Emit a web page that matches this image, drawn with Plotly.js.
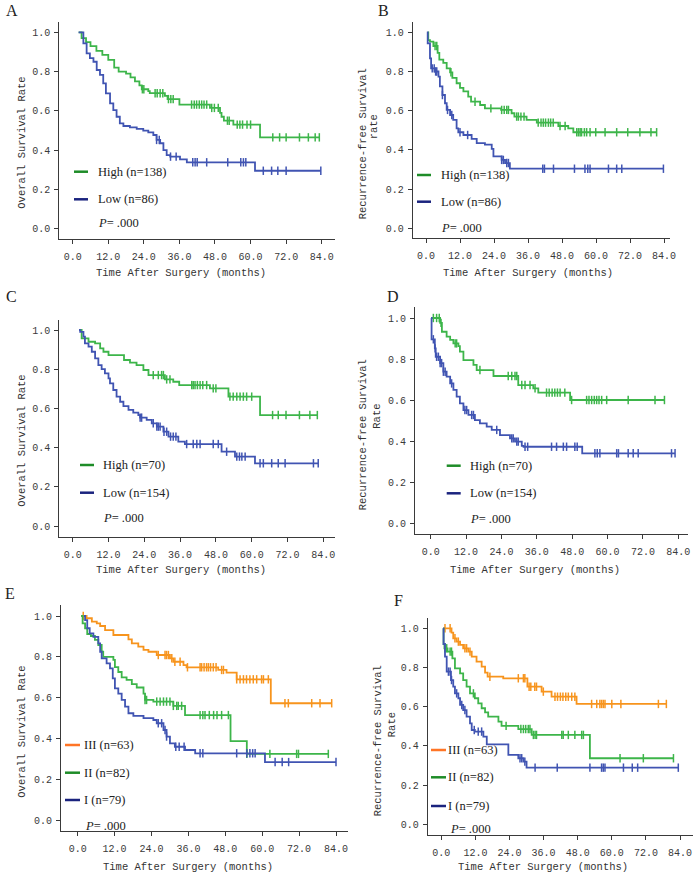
<!DOCTYPE html>
<html><head><meta charset="utf-8">
<script src="https://cdn.plot.ly/plotly-3.0.1.min.js"></script>
<style>html,body{margin:0;padding:0;background:#fff}#chart{width:697px;height:877px}</style>
</head><body><div id="chart"></div>
<script>
// ---------- tick labels ----------
const xTickVals = [0, 12, 24, 36, 48, 60, 72, 84];
const xTickText = ['0.0', '12.0', '24.0', '36.0', '48.0', '60.0', '72.0', '84.0'];
const yTickVals = [0, 0.2, 0.4, 0.6, 0.8, 1.0];
const yTickText = ['0.0', '0.2', '0.4', '0.6', '0.8', '1.0'];

// ---------- Panel A : Overall survival, High vs Low ----------
const A_high_t = [2, 3, 4.5, 6, 8, 10, 12, 14, 15.5, 18, 19.5, 21, 22.5, 23.3, 25.5, 26, 31.1, 32, 36, 46.3, 49.7, 50.2, 51, 54.2, 63.2];
const A_high_s = [1.0, 0.97, 0.95, 0.93, 0.905, 0.885, 0.86, 0.82, 0.80, 0.79, 0.77, 0.75, 0.73, 0.71, 0.70, 0.69, 0.676, 0.66, 0.632, 0.615, 0.59, 0.57, 0.55, 0.53, 0.465];
const A_high_c = [23.5, 24, 27.8, 28.5, 29.5, 30.4, 32.3, 33.1, 33.9, 40.1, 41, 41.8, 42.7, 43.5, 44.3, 45.2, 46.9, 47.8, 49.1, 52.2, 52.8, 55.5, 56.4, 57.3, 58.8, 60, 67.5, 69.8, 72, 76.5, 79.5, 81.8, 83.2];
const A_low_t = [2, 3.6, 4.7, 5.8, 7.0, 8.1, 9.2, 10.3, 11.2, 12.6, 13.7, 14.8, 15.9, 17.1, 19.3, 21.6, 23.8, 25.5, 27.2, 28.3, 29.5, 30.6, 31.7, 32.9, 36.2, 38.5, 61.5];
const A_low_s = [1.0, 0.944, 0.893, 0.868, 0.85, 0.808, 0.783, 0.74, 0.689, 0.638, 0.604, 0.57, 0.536, 0.523, 0.516, 0.508, 0.499, 0.49, 0.477, 0.452, 0.435, 0.40, 0.375, 0.367, 0.353, 0.338, 0.295];
const A_low_c = [28.3, 29.2, 33, 34.9, 40.5, 41.3, 42, 45.2, 52.3, 56.7, 57.6, 58.4, 64.3, 67.1, 69.2, 72, 83.7];

// ---------- Panel B : Recurrence-free survival, High vs Low ----------
const B_high_t = [0.6, 0.8, 1.4, 2.6, 4.1, 4.7, 6.1, 7.3, 8.5, 9.3, 10.8, 12.0, 13.2, 14.9, 15.9, 19.1, 20.8, 26.5, 30.2, 31.2, 35.5, 39.1, 46.7, 50.2, 52];
const B_high_s = [1.0, 0.96, 0.952, 0.93, 0.895, 0.861, 0.844, 0.816, 0.796, 0.767, 0.74, 0.716, 0.699, 0.672, 0.646, 0.629, 0.612, 0.604, 0.587, 0.57, 0.553, 0.539, 0.522, 0.51, 0.49];
const B_high_c = [3.2, 3.8, 8.8, 17.3, 22.9, 26.7, 27.6, 28.5, 29.1, 32, 32.6, 33.5, 34.6, 39.6, 40.6, 41.4, 42.2, 43.2, 44, 44.9, 47.3, 49.1, 53.2, 53.8, 54.4, 54.9, 55.9, 56.7, 57.9, 59.9, 63.2, 67.3, 71.2, 75.5, 79.4, 81.4];
const B_low_t = [0.3, 0.6, 1.4, 1.8, 3.2, 4.4, 4.9, 5.8, 6.7, 7.3, 8.5, 9.6, 10.8, 11.4, 13.2, 16.1, 17.9, 20.8, 23.2, 23.8, 26.7, 27.9, 29.6];
const B_low_s = [1.0, 0.944, 0.867, 0.816, 0.80, 0.774, 0.724, 0.68, 0.638, 0.604, 0.578, 0.553, 0.51, 0.49, 0.476, 0.456, 0.435, 0.427, 0.405, 0.367, 0.349, 0.333, 0.304];
const B_low_c = [2.2, 2.9, 3.4, 3.8, 5.8, 7.6, 9.1, 12, 14.7, 26.7, 27.3, 28.5, 29.1, 41.2, 41.8, 45, 52.4, 56.1, 57.1, 57.9, 64.4, 67.3, 69.1, 83.8];

// ---------- Panel C : Overall survival, High vs Low ----------
const C_high_t = [2.1, 3.0, 5.3, 7.5, 9.2, 10.3, 12.0, 17.2, 19.2, 21.4, 23.7, 25.4, 30.9, 33.7, 35.7, 46, 52.2, 62.8];
const C_high_s = [1.0, 0.957, 0.94, 0.932, 0.906, 0.889, 0.872, 0.847, 0.834, 0.821, 0.796, 0.77, 0.748, 0.736, 0.719, 0.702, 0.66, 0.566];
const C_high_c = [27, 28.7, 29.8, 30.4, 31.5, 32.6, 39.9, 40.4, 41, 41.8, 42.7, 43.6, 44.9, 47.1, 48, 52.7, 53.8, 55, 56.1, 57.2, 58.3, 60, 67, 68.9, 71.5, 76, 79.5, 82];
const C_low_t = [2.1, 2.5, 3.6, 4.1, 5.3, 6.4, 7.5, 8.6, 9.7, 10.8, 12.0, 12.5, 13.6, 14.7, 15.9, 17.0, 18.7, 20.3, 22.0, 22.6, 24.8, 26.5, 28.2, 30.4, 32.1, 35.4, 37.6, 49.9, 54.4, 61.1];
const C_low_s = [1.0, 0.99, 0.966, 0.932, 0.915, 0.889, 0.855, 0.821, 0.80, 0.779, 0.753, 0.728, 0.694, 0.66, 0.634, 0.612, 0.592, 0.578, 0.566, 0.553, 0.541, 0.524, 0.507, 0.481, 0.456, 0.43, 0.418, 0.379, 0.354, 0.32];
const C_low_c = [22.6, 23.1, 27, 28.2, 28.7, 29.3, 30.6, 31.5, 32.8, 33.7, 34.6, 38.2, 40.4, 41.6, 42.7, 47.1, 48.8, 51.6, 55, 55.9, 56.7, 57.8, 62.8, 63.9, 66.7, 68.9, 71.2, 80.7, 82.3];

// ---------- Panel D : Recurrence-free survival, High vs Low ----------
const D_high_t = [0.3, 3.2, 3.8, 5.4, 6.6, 7.7, 9.4, 9.9, 11.1, 14.5, 15.6, 21.3, 29.7, 34.8, 36.5, 47.3];
const D_high_s = [1.0, 0.976, 0.933, 0.909, 0.893, 0.876, 0.863, 0.836, 0.795, 0.771, 0.746, 0.717, 0.673, 0.657, 0.636, 0.60];
const D_high_c = [0.9, 2.0, 2.9, 3.5, 8.3, 8.8, 16.7, 26.3, 27.5, 28.6, 29.2, 30.9, 32, 33.7, 35.4, 39.3, 40.2, 41.2, 42.1, 43, 43.9, 45.5, 47.8, 52.9, 53.7, 54.6, 55.5, 56.3, 57.1, 58, 59.7, 67, 76.1, 79.3];
const D_low_t = [0.1, 0.3, 1.4, 1.7, 3.2, 4.3, 5.4, 6.6, 7.7, 8.8, 9.9, 11.1, 12.8, 15.0, 16.7, 19.0, 20.7, 23.5, 26.9, 28.6, 30.9, 31.5, 51.4];
const D_low_s = [1.0, 0.896, 0.852, 0.811, 0.78, 0.738, 0.714, 0.681, 0.649, 0.616, 0.584, 0.551, 0.527, 0.502, 0.486, 0.47, 0.454, 0.429, 0.413, 0.397, 0.376, 0.372, 0.34];
const D_low_c = [0.9, 1.5, 2.0, 2.6, 3.2, 3.7, 4.3, 4.9, 7.1, 11.6, 12.2, 13.9, 14.5, 22.4, 27.5, 28, 29.2, 29.7, 32, 32.9, 41, 42.7, 45, 46.1, 48.9, 49.7, 55.7, 56.5, 57.4, 63.1, 63.7, 67, 68.7, 70.4, 81.7, 82.9];

// ---------- Panel E : Overall survival by stage ----------
const E_III_t = [1.1, 2.9, 4.6, 6.2, 7.3, 8.9, 11.6, 16.5, 17.6, 19.7, 21.4, 23.0, 25.7, 30.0, 31.1, 34.4, 35.4, 45.7, 48.4, 51.7, 62.8];
const E_III_s = [1.0, 0.989, 0.972, 0.964, 0.951, 0.931, 0.907, 0.886, 0.866, 0.85, 0.834, 0.825, 0.809, 0.793, 0.776, 0.76, 0.749, 0.736, 0.723, 0.69, 0.573];
const E_III_c = [1.8, 26.2, 28.4, 28.9, 29.5, 30.6, 31.6, 33.3, 35.7, 39.8, 40.3, 41.1, 41.9, 42.5, 43.2, 44.1, 45, 46.8, 47.4, 51.7, 52.8, 53.9, 54.9, 56, 57.1, 58.2, 59.8, 60.4, 62, 67.4, 68.5, 76.1, 78.8, 82.6];
const E_II_t = [1.1, 1.6, 2.4, 3.1, 4.3, 5.6, 6.7, 7.8, 8.3, 11.6, 12.1, 13.2, 14.3, 15.9, 17.6, 19.2, 21.4, 21.9, 24.6, 31.1, 34.9, 49.7, 55];
const E_II_s = [1.0, 0.964, 0.94, 0.912, 0.902, 0.883, 0.858, 0.825, 0.80, 0.785, 0.75, 0.726, 0.70, 0.687, 0.667, 0.65, 0.62, 0.589, 0.581, 0.56, 0.515, 0.388, 0.325];
const E_II_c = [21.9, 22.4, 25.7, 26.8, 27.9, 28.9, 30, 31.1, 32.2, 32.7, 33.8, 39.8, 40.7, 41.4, 42.8, 44.2, 45.3, 46.8, 49, 55, 62.5, 71.2, 71.8, 81.5];
const E_I_t = [2.0, 2.4, 3.1, 3.9, 5.1, 6.7, 7.3, 7.8, 9.4, 10.5, 11.4, 12.1, 13.2, 14.3, 15.4, 16.5, 18.1, 21.4, 24.6, 25.7, 27.9, 28.9, 30.0, 31.6, 34.9, 38.2, 60.9];
const E_I_s = [1.0, 0.98, 0.94, 0.915, 0.898, 0.866, 0.825, 0.793, 0.768, 0.744, 0.695, 0.646, 0.62, 0.589, 0.556, 0.524, 0.511, 0.5, 0.491, 0.475, 0.442, 0.41, 0.377, 0.36, 0.344, 0.328, 0.285];
const E_I_c = [26.2, 27.3, 28.4, 28.9, 31.9, 33, 34.6, 39.8, 40.7, 51.7, 55, 56, 56.9, 57.7, 64.2, 66.5, 68.6, 84];

// ---------- Panel F : Recurrence-free survival by stage ----------
const F_III_t = [0.7, 3.6, 4.2, 5.4, 6.6, 7.7, 9.5, 10.7, 12.4, 14.2, 15.4, 16.3, 21.8, 30.3, 35.3, 38.8, 47.6];
const F_III_s = [1.0, 0.978, 0.949, 0.932, 0.915, 0.898, 0.881, 0.855, 0.83, 0.804, 0.774, 0.753, 0.745, 0.702, 0.677, 0.651, 0.614];
const F_III_c = [1.3, 3.1, 4.8, 6, 8.3, 8.9, 10.1, 17.1, 27.1, 28.9, 29.4, 30.9, 31.5, 32.9, 33.5, 35.9, 40, 40.9, 41.9, 42.8, 43.8, 44.7, 45.9, 47, 52.9, 54.7, 55.8, 56.4, 57, 57.6, 60, 63.2, 76.4, 79.2];
const F_II_t = [0.7, 0.8, 1.1, 2.2, 3.9, 4.8, 6.6, 7.7, 8.9, 10.1, 11.8, 13.0, 14.2, 15.4, 16.5, 20.1, 21.2, 27.1, 31.8, 52.3];
const F_II_s = [1.0, 0.92, 0.898, 0.881, 0.847, 0.796, 0.77, 0.736, 0.702, 0.668, 0.643, 0.617, 0.592, 0.571, 0.549, 0.524, 0.502, 0.486, 0.456, 0.337];
const F_II_c = [1.3, 1.9, 3.1, 3.6, 11.3, 22.8, 28, 28.9, 29.7, 30.6, 31.2, 32.4, 33, 33.5, 42.4, 42.9, 44.7, 47, 49.4, 50, 62.9, 71.1, 81.7];
const F_I_t = [0.7, 0.8, 1.3, 1.9, 3.4, 4.2, 4.8, 6.0, 6.6, 7.7, 8.9, 10.1, 10.7, 11.8, 14.8, 16.0, 23.6, 27.1, 28.9, 30];
const F_I_s = [1.0, 0.92, 0.855, 0.779, 0.736, 0.702, 0.668, 0.643, 0.609, 0.583, 0.549, 0.515, 0.481, 0.473, 0.447, 0.408, 0.354, 0.337, 0.32, 0.289];
const F_I_c = [2.5, 3.1, 3.6, 5.4, 7.2, 8.3, 11.6, 13, 14.2, 27.7, 28.3, 29.4, 33, 40.8, 52.3, 56.4, 57, 57.6, 64.1, 67.2, 69.1, 83.4];

// ---------- legend / text ----------
const legendAB = ['High (n=138)', 'Low (n=86)'];
const legendCD = ['High (n=70)', 'Low (n=154)'];
const legendEF = ['III (n=63)', 'II (n=82)', 'I (n=79)'];
const pText = '<i>P</i>= .000';
const xTitle = 'Time After Surgery (months)';

// ---------- styles ----------
const GREEN = '#3db54a', BLUE = '#4054b2', ORANGE = '#f7941d';
const LG_GREEN = '#1e8c28', LG_NAVY = '#1a237e', LG_ORANGE = '#ff7526';
const W = 697, H = 877;
const MONO = 'Liberation Mono, DejaVu Sans Mono, monospace';
const SERIF = 'Liberation Serif, DejaVu Serif, serif';

// panel geometry (pixels): axis box and value anchors
const geo = [
  {axL: 59.3, axR: 335, axT: 21.7, axB: 238.7, x0: 72.7, x84: 321.7, y1: 32.3, y0: 228.7},
  {axL: 412.7, axR: 670, axT: 21.7, axB: 238, x0: 426, x84: 664, y1: 32.3, y0: 228.3},
  {axL: 59.3, axR: 335, axT: 320, axB: 536.7, x0: 72.7, x84: 323.3, y1: 330, y0: 526},
  {axL: 415, axR: 688, axT: 306.7, axB: 534.3, x0: 430.7, x84: 678.3, y1: 318, y0: 523},
  {axL: 61, axR: 348, axT: 605, axB: 830.7, x0: 77.7, x84: 336, y1: 616, y0: 820.3},
  {axL: 427.7, axR: 693, axT: 618, axB: 835.3, x0: 441.3, x84: 680, y1: 628.3, y0: 824.3}
];

const curves = [
  [[A_high_t, A_high_s, A_high_c, GREEN], [A_low_t, A_low_s, A_low_c, BLUE]],
  [[B_high_t, B_high_s, B_high_c, GREEN], [B_low_t, B_low_s, B_low_c, BLUE]],
  [[C_high_t, C_high_s, C_high_c, GREEN], [C_low_t, C_low_s, C_low_c, BLUE]],
  [[D_high_t, D_high_s, D_high_c, GREEN], [D_low_t, D_low_s, D_low_c, BLUE]],
  [[E_III_t, E_III_s, E_III_c, ORANGE], [E_II_t, E_II_s, E_II_c, GREEN], [E_I_t, E_I_s, E_I_c, BLUE]],
  [[F_III_t, F_III_s, F_III_c, ORANGE], [F_II_t, F_II_s, F_II_c, GREEN], [F_I_t, F_I_s, F_I_c, BLUE]]
];

const traces = [];
const layout = {
  width: W, height: H, margin: {l: 0, r: 0, t: 0, b: 0},
  paper_bgcolor: '#fff', plot_bgcolor: 'rgba(0,0,0,0)', showlegend: false,
  annotations: [], shapes: []
};

const px = (x) => x / W;
const py = (y) => 1 - y / H;

geo.forEach((g, i) => {
  const n = i + 1;
  const xa = n === 1 ? 'x' : 'x' + n, ya = n === 1 ? 'y' : 'y' + n;
  const xk = n === 1 ? 'xaxis' : 'xaxis' + n, yk = n === 1 ? 'yaxis' : 'yaxis' + n;
  const ppx = (g.x84 - g.x0) / 84, ppy = g.y0 - g.y1;
  const common = {showgrid: false, zeroline: false, showline: true, linecolor: '#3a3a3a', linewidth: 1,
    ticks: 'outside', ticklen: 4, tickcolor: '#3a3a3a', tickwidth: 1, fixedrange: true,
    tickfont: {family: MONO, size: 10, color: '#3a3a3a'}};
  layout[xk] = Object.assign({}, common, {
    domain: [px(g.axL), px(g.axR)], anchor: ya,
    range: [(g.axL - g.x0) / ppx, (g.axR - g.x0) / ppx],
    tickmode: 'array', tickvals: xTickVals, ticktext: xTickText, ticklabelstandoff: 4
  });
  layout[yk] = Object.assign({}, common, {
    domain: [py(g.axB), py(g.axT)], anchor: xa,
    range: [(g.y0 - g.axB) / ppy, (g.y0 - g.axT) / ppy],
    tickmode: 'array', tickvals: yTickVals, ticktext: yTickText, ticklabelstandoff: 2
  });
  curves[i].forEach(([t, s, c, color]) => {
    const last = Math.max(t[t.length - 1], c[c.length - 1]);
    traces.push({x: t.concat([last]), y: s.concat([s[s.length - 1]]), mode: 'lines',
      line: {shape: 'hv', color: color, width: 1.8}, xaxis: xa, yaxis: ya, hoverinfo: 'skip', cliponaxis: false});
    const cy = c.map(ci => { let v = s[0]; for (let k = 0; k < t.length; k++) if (t[k] <= ci) v = s[k]; return v; });
    traces.push({x: c, y: cy, mode: 'markers', xaxis: xa, yaxis: ya, hoverinfo: 'skip', cliponaxis: false,
      marker: {symbol: 'line-ns', size: 6, color: color, line: {color: color, width: 1.5}}});
  });
});

function ann(text, x, y, opts) {
  layout.annotations.push(Object.assign({text: text, x: px(x), y: py(y), xref: 'paper', yref: 'paper',
    showarrow: false, xanchor: 'left', yanchor: 'middle'}, opts || {}));
}
function legLine(x1, x2, y, color) {
  layout.shapes.push({type: 'line', xref: 'paper', yref: 'paper', x0: px(x1), x1: px(x2), y0: py(y), y1: py(y),
    line: {color: color, width: 2.5}});
}
const serifFont = {family: SERIF, size: 12.5, color: '#222'};
const titleFont = {family: MONO, size: 10.5, color: '#333'};
const letterFont = {family: SERIF, size: 16, color: '#222'};

// panel letters
[['A', 4, 11], ['B', 376, 11], ['C', 4, 297], ['D', 385, 296], ['E', 3, 593], ['F', 392, 600]].forEach(([l, x, y]) =>
  ann(l, x, y, {font: letterFont}));

// x titles
[[180.5, 273.3], [527.5, 272.7], [180.8, 570], [535, 570], [187.8, 866.7], [542.5, 867.3]].forEach(([x, y]) =>
  ann(xTitle, x, y, {xanchor: 'center', font: titleFont}));

// y titles
const yT = {xanchor: 'center', textangle: -90, font: titleFont};
ann('Overall Survival Rate', 21.7, 143, yT);
ann('Overall Survival Rate', 21.7, 441, yT);
ann('Overall Survival Rate', 21.7, 732, yT);
ann('Recurrence-free Survival', 363.3, 144, yT);
ann('rate', 374.3, 127, yT);
ann('Recurrence-free Survival', 363.3, 435, yT);
ann('Rate', 376.7, 416, yT);
ann('Recurrence-free Survival', 378.3, 741, yT);
ann('Rate', 391.7, 724.5, yT);

// legends A-D
const leg2 = [
  {lx: 74, tx: 96, y1: 171.7, y2: 199.3, yp: 223.3, px0: 96, labels: legendAB},
  {lx: 417, tx: 439.3, y1: 175, y2: 201.7, yp: 227.7, px0: 439.3, labels: legendAB},
  {lx: 80, tx: 101, y1: 465, y2: 492.7, yp: 518.3, px0: 101, labels: legendCD},
  {lx: 446.7, tx: 468.3, y1: 465.7, y2: 493.3, yp: 519.3, px0: 468.3, labels: legendCD}
];
leg2.forEach(L => {
  legLine(L.lx, L.lx + 14, L.y1, LG_GREEN);
  legLine(L.lx, L.lx + 14, L.y2, LG_NAVY);
  ann(L.labels[0], L.tx, L.y1, {font: serifFont});
  ann(L.labels[1], L.tx, L.y2, {font: serifFont});
  ann(pText, L.px0, L.yp, {font: serifFont});
});
// legends E-F
const leg3 = [
  {lx: 65, tx: 81.5, ys: [745, 772.7, 800], yp: 825.7, px0: 82.7},
  {lx: 431, tx: 445.5, ys: [750, 777.3, 806], yp: 829.3, px0: 448}
];
leg3.forEach(L => {
  [LG_ORANGE, LG_GREEN, LG_NAVY].forEach((c, k) => {
    legLine(L.lx, L.lx + 15, L.ys[k], c);
    ann(legendEF[k], L.tx, L.ys[k], {font: serifFont});
  });
  ann(pText, L.px0, L.yp, {font: serifFont});
});

Plotly.newPlot('chart', traces, layout, {staticPlot: true, displayModeBar: false});
</script></body></html>
